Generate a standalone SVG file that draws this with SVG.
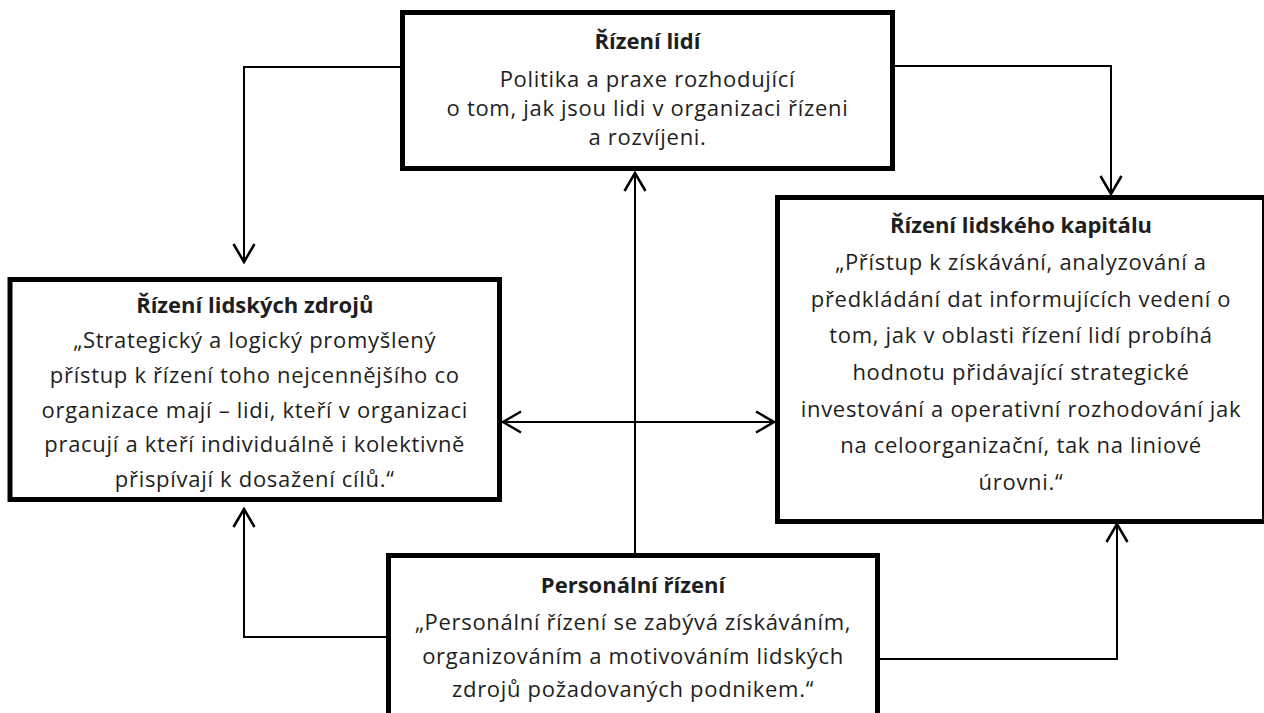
<svg xmlns="http://www.w3.org/2000/svg" width="1264" height="713" viewBox="0 0 1264 713">
<style>
.box{fill:#fff;stroke:#000;stroke-width:5}
.t{font-family:"Open Sans","Noto Sans","Liberation Sans",sans-serif;font-size:22px;letter-spacing:0.7px;fill:#1e1e1e;text-anchor:middle}
.b{font-weight:bold;letter-spacing:0}
.c{fill:none;stroke:#000;stroke-width:2}
</style>
<defs>
<marker id="ah" markerUnits="userSpaceOnUse" viewBox="-20 -12 22 24" refX="0" refY="0" markerWidth="22" markerHeight="24" orient="auto-start-reverse">
<path d="M-18,-10.5 L0,0 L-18,10.5" fill="none" stroke="#000" stroke-width="2.5"/>
</marker>
</defs>
<rect width="1264" height="713" fill="#fff"/>
<g id="connectors">
<path class="c" d="M400,67 H244 V262" marker-end="url(#ah)"/>
<path class="c" d="M895,66 H1111 V194" marker-end="url(#ah)"/>
<path class="c" d="M635,556 V173" marker-end="url(#ah)"/>
<path class="c" d="M503,422 H774" marker-start="url(#ah)" marker-end="url(#ah)"/>
<path class="c" d="M386,637 H244 V509" marker-end="url(#ah)"/>
<path class="c" d="M880,659 H1117 V524" marker-end="url(#ah)"/>
</g>
<g id="rizeni-lidi">
<rect class="box" x="402.5" y="12.5" width="490" height="156"/>
<text class="t b" x="647.5" y="49">Řízení lidí</text>
<text class="t" x="647.5" y="87">Politika a praxe rozhodující</text>
<text class="t" x="647.5" y="116">o tom, jak jsou lidi v organizaci řízeni</text>
<text class="t" x="647.5" y="145">a rozvíjeni.</text>
</g>
<g id="rizeni-lidskych-zdroju">
<rect class="box" x="10" y="279.5" width="489.5" height="220"/>
<text class="t b" x="254.75" y="313">Řízení lidských zdrojů</text>
<text class="t" x="254.75" y="348">„Strategický a logický promyšlený</text>
<text class="t" x="254.75" y="383">přístup k řízení toho nejcennějšího co</text>
<text class="t" x="254.75" y="418">organizace mají – lidi, kteří v organizaci</text>
<text class="t" x="254.75" y="452">pracují a kteří individuálně i kolektivně</text>
<text class="t" x="254.75" y="487">přispívají k dosažení cílů.“</text>
</g>
<g id="rizeni-lidskeho-kapitalu">
<rect class="box" x="777.5" y="197.5" width="487" height="324"/>
<text class="t b" x="1021" y="233">Řízení lidského kapitálu</text>
<text class="t" x="1021" y="270">„Přístup k získávání, analyzování a</text>
<text class="t" x="1021" y="307">předkládání dat informujících vedení o</text>
<text class="t" x="1021" y="343">tom, jak v oblasti řízení lidí probíhá</text>
<text class="t" x="1021" y="380">hodnotu přidávající strategické</text>
<text class="t" x="1021" y="417">investování a operativní rozhodování jak</text>
<text class="t" x="1021" y="453">na celoorganizační, tak na liniové</text>
<text class="t" x="1021" y="490">úrovni.“</text>
</g>
<g id="personalni-rizeni">
<rect class="box" x="388.5" y="555.5" width="489" height="170"/>
<text class="t b" x="633" y="593">Personální řízení</text>
<text class="t" x="633" y="630">„Personální řízení se zabývá získáváním,</text>
<text class="t" x="633" y="664">organizováním a motivováním lidských</text>
<text class="t" x="633" y="697">zdrojů požadovaných podnikem.“</text>
</g>
</svg>
